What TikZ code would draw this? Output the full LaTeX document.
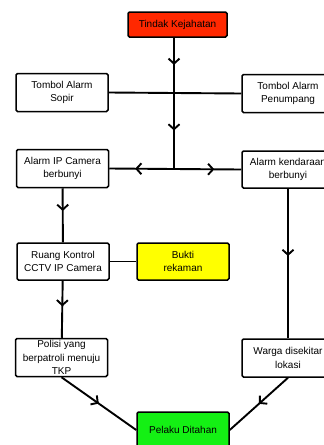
\documentclass[tikz,border=0pt]{standalone}
\usepackage{fontspec}
\setmainfont{Liberation Sans}
\usepackage{xcolor}
\usetikzlibrary{arrows.meta,positioning,decorations.markings}
\definecolor{crimered}{RGB}{255,40,0}
\definecolor{proofyellow}{RGB}{255,255,0}
\definecolor{catchgreen}{RGB}{20,240,20}

\begin{document}
\begin{tikzpicture}[x=1pt,y=-1pt,
  box/.style={draw,line width=1.5pt,rounded corners=1.5pt,minimum width=92pt,minimum height=38pt,
    align=center,inner sep=1pt,font=\fontsize{10}{13.5}\selectfont},
  ln/.style={line width=1.9pt},
  midarrow/.style={ln,postaction={decorate},decoration={markings,
    mark=at position #1 with {\arrow{Straight Barb[length=5pt,width=11pt,line width=1.9pt]}}}},
  midarrow/.default=0.5]
 \clip (0,0) rectangle (324,445);
 % top
 \node[box,fill=crimered,minimum width=99pt,minimum height=25pt] (tindak) at (177.5,24.5) {Tindak Kejahatan};
 \coordinate (j1) at (174,92);
 \coordinate (j2) at (174,169);
 % left column
 \node[box] (sopir) at (62,92.5) {Tombol Alarm\\Sopir};
 \node[box] (alarmip) at (62.5,168.5) {Alarm IP Camera\\berbunyi};
 \node[box,minimum height=37pt] (ruang) at (63,261.5) {Ruang Kontrol\\CCTV IP Camera};
 \node[box] (polisi) at (61.5,357.5) {Polisi yang\\berpatroli menuju\\TKP};
 % right column
 \node[box] (penumpang) at (288,93.5) {Tombol Alarm\\Penumpang};
 \node[box,minimum height=37pt] (alarmk) at (288,169.5) {Alarm kendaraan\\berbunyi};
 \node[box] (warga) at (288,358) {Warga disekitar\\lokasi};
 % middle
 \node[box,fill=proofyellow,minimum height=37pt] (bukti) at (183,261.5) {Bukti\\rekaman};
 \node[box,fill=catchgreen,minimum height=36pt] (pelaku) at (183,430) {Pelaku Ditahan};
 % connectors
 \draw[ln] (sopir.east) -- (penumpang.west);
 \draw[midarrow] (tindak.south -| j1) -- (j1);
 \draw[midarrow] (j1) -- (j2);
 \draw[midarrow=0.6] (j2) -- (alarmip.east);
 \draw[midarrow=0.6] (j2) -- (alarmk.west);
 \draw[midarrow=0.42] (alarmip) -- (ruang);
 \draw[ln] (ruang) -- (bukti);
 \draw[midarrow=0.45] (ruang) -- (polisi);
 \draw[midarrow=0.45] (alarmk) -- (warga);
 \draw[midarrow] (polisi.south) -- (pelaku.west);
 \draw[midarrow] (warga.south) -- (pelaku.east);
\end{tikzpicture}
\end{document}
